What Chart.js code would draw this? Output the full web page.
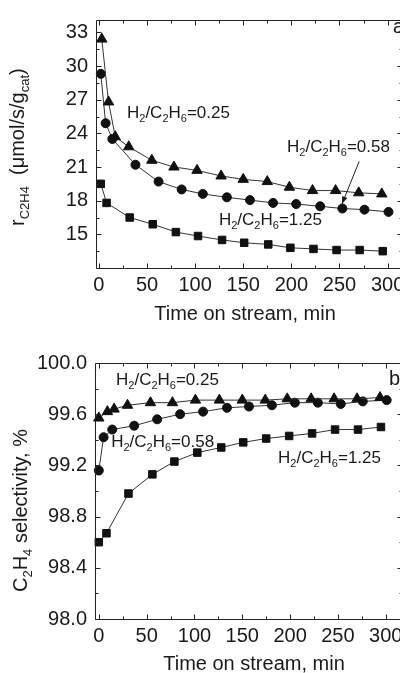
<!DOCTYPE html>
<html>
<head>
<meta charset="utf-8">
<script src="https://cdn.jsdelivr.net/npm/chart.js@4.4.1/dist/chart.umd.min.js"></script>
<style>
  html, body { margin: 0; padding: 0; background: #fff; }
  #wrap { width: 400px; height: 673px; overflow: hidden; position: relative; }
  .panel { position: absolute; left: 0; width: 420px; }
</style>
</head>
<body>
<div id="wrap">
  <div class="panel" style="top:0;height:336px"><canvas id="rate" width="420" height="336"></canvas></div>
  <div class="panel" style="top:336px;height:337px"><canvas id="sel" width="420" height="337"></canvas></div>
</div>
<script>
// tick labels
const xTicks = [0, 50, 100, 150, 200, 250, 300];
const xMinor = [25, 75, 125, 175, 225, 275];
const rateTicks = [15, 18, 21, 24, 27, 30, 33];
const rateMinor = [13.5, 16.5, 19.5, 22.5, 25.5, 28.5, 31.5];
const selTicks = [98.0, 98.4, 98.8, 99.2, 99.6, 100.0];
const selMinor = [98.2, 98.6, 99.0, 99.4, 99.8];

// (a) ethylene formation rate, umol/s/g_cat
const rate025X = [3, 10, 17, 31, 55, 78, 102, 127, 150, 175, 198, 222, 246, 270, 294];
const rate025Y = [32.4, 26.8, 23.7, 22.8, 21.6, 21.0, 20.7, 20.2, 19.9, 19.7, 19.2, 18.9, 18.9, 18.7, 18.6];
const rate058X = [2, 7, 14, 38, 62, 86, 108, 133, 157, 181, 205, 230, 253, 276, 301];
const rate058Y = [29.3, 24.9, 23.5, 21.2, 19.7, 19.0, 18.6, 18.3, 18.05, 17.8, 17.7, 17.5, 17.3, 17.2, 17.0];
const rate125X = [2, 8, 32, 56, 80, 103, 128, 151, 176, 199, 223, 247, 271, 295];
const rate125Y = [19.5, 17.8, 16.5, 15.9, 15.2, 14.85, 14.5, 14.25, 14.1, 13.8, 13.7, 13.6, 13.6, 13.5];

// (b) C2H4 selectivity, %
const sel025X = [0, 9, 16, 30, 54, 77, 101, 126, 150, 174, 197, 222, 246, 270, 294];
const sel025Y = [99.57, 99.62, 99.64, 99.67, 99.69, 99.69, 99.71, 99.71, 99.71, 99.71, 99.72, 99.72, 99.72, 99.72, 99.73];
const sel058X = [0, 5, 14, 37, 61, 85, 109, 134, 157, 181, 205, 229, 253, 276, 301];
const sel058Y = [99.16, 99.42, 99.48, 99.51, 99.56, 99.60, 99.62, 99.65, 99.66, 99.67, 99.69, 99.69, 99.68, 99.70, 99.71];
const sel125X = [0, 8, 31, 56, 79, 103, 128, 151, 175, 199, 223, 247, 271, 295];
const sel125Y = [98.60, 98.67, 98.98, 99.13, 99.23, 99.30, 99.34, 99.38, 99.41, 99.43, 99.45, 99.48, 99.48, 99.50];

const FONT = '"Liberation Sans", Arial, sans-serif';
const INK = '#1a1a1a';

function series(xs, ys, style, r) {
  return {
    data: xs.map((x, i) => ({ x: x, y: ys[i] })),
    showLine: true,
    borderColor: '#333',
    borderWidth: 1,
    pointStyle: style,
    pointRadius: r,
    pointBackgroundColor: '#111',
    pointBorderColor: '#111',
    pointBorderWidth: 1,
    clip: false
  };
}

// text with subscripts: parts = [[text, isSub], ...]
function richText(ctx, parts, x, y, size, subSize, shift) {
  parts.forEach(p => {
    ctx.font = (p[1] ? subSize : size) + 'px ' + FONT;
    ctx.fillText(p[0], x, y + (p[1] ? shift : 0));
    x += ctx.measureText(p[0]).width;
  });
}

function ratio(v) {
  return [['H', 0], ['2', 1], ['/C', 0], ['2', 1], ['H', 0], ['6', 1], ['=' + v, 0]];
}

const decor = {
  id: 'decor',
  afterDraw(chart, args, o) {
    const ctx = chart.ctx, a = chart.chartArea;
    const xs = chart.scales.x, ys = chart.scales.y;
    const L = Math.round(a.left) + 0.5, R = Math.round(a.right) + 0.5;
    const T = Math.round(a.top) + 0.5, B = Math.round(a.bottom) + 0.5;
    ctx.save();
    ctx.strokeStyle = '#222';
    ctx.lineWidth = 1;
    ctx.beginPath();
    ctx.moveTo(L, T); ctx.lineTo(R, T); ctx.lineTo(R, B); ctx.lineTo(L, B); ctx.closePath();
    // inward ticks
    const tx = (vals, len) => vals.forEach(v => {
      const p = Math.round(xs.getPixelForValue(v)) + 0.5;
      ctx.moveTo(p, B); ctx.lineTo(p, B - len);
      ctx.moveTo(p, T); ctx.lineTo(p, T + len);
    });
    const ty = (vals, len) => vals.forEach(v => {
      const p = Math.round(ys.getPixelForValue(v)) + 0.5;
      ctx.moveTo(L, p); ctx.lineTo(L + len, p);
      ctx.moveTo(R, p); ctx.lineTo(R - len, p);
    });
    tx(xTicks, 5); tx(xMinor, 3);
    ty(o.yTicks, 5); ty(o.yMinor, 3);
    ctx.stroke();

    ctx.fillStyle = INK;
    ctx.textBaseline = 'alphabetic';
    // x title
    ctx.font = '20px ' + FONT;
    ctx.textAlign = 'center';
    ctx.fillText('Time on stream, min', o.xTitle[0], o.xTitle[1]);
    ctx.textAlign = 'left';
    ctx.fillText(o.letter[0], o.letter[1], o.letter[2]);
    // y title, rotated
    ctx.save();
    ctx.translate(o.yTitlePos[0], o.yTitlePos[1]);
    ctx.rotate(-Math.PI / 2);
    richText(ctx, o.yTitle, 0, 0, 20, 13, 5);
    ctx.restore();
    // ratio labels
    o.notes.forEach(n => {
      richText(ctx, ratio(n[0]), xs.getPixelForValue(n[1]), ys.getPixelForValue(n[2]), 17, 11, 4);
    });
    // arrow
    if (o.arrow) {
      const x1 = xs.getPixelForValue(o.arrow[0]), y1 = ys.getPixelForValue(o.arrow[1]);
      const x2 = xs.getPixelForValue(o.arrow[2]), y2 = ys.getPixelForValue(o.arrow[3]);
      const ang = Math.atan2(y2 - y1, x2 - x1);
      ctx.strokeStyle = '#222';
      ctx.beginPath();
      ctx.moveTo(x1, y1); ctx.lineTo(x2, y2);
      ctx.stroke();
      ctx.beginPath();
      ctx.moveTo(x2, y2);
      ctx.lineTo(x2 - 8 * Math.cos(ang - 0.35), y2 - 8 * Math.sin(ang - 0.35));
      ctx.lineTo(x2 - 8 * Math.cos(ang + 0.35), y2 - 8 * Math.sin(ang + 0.35));
      ctx.closePath();
      ctx.fill();
    }
    ctx.restore();
  }
};

function makeChart(id, sets, xr, yr, yTicks, fmt, fit, pad, deco) {
  return new Chart(document.getElementById(id), {
    type: 'scatter',
    data: { datasets: sets },
    options: {
      responsive: false,
      animation: false,
      layout: { padding: pad },
      plugins: { legend: { display: false }, tooltip: { enabled: false }, decor: deco },
      scales: {
        x: {
          min: xr[0], max: xr[1],
          afterBuildTicks: s => { s.ticks = xTicks.map(v => ({ value: v })); },
          afterFit: s => { s.height = fit[1]; },
          grid: { display: false, drawTicks: false },
          border: { display: false },
          ticks: { font: { family: FONT, size: 20 }, color: INK, padding: 5, maxRotation: 0, autoSkip: false }
        },
        y: {
          min: yr[0], max: yr[1],
          afterBuildTicks: s => { s.ticks = yTicks.map(v => ({ value: v })); },
          afterFit: s => { s.width = fit[0]; },
          grid: { display: false, drawTicks: false },
          border: { display: false },
          ticks: { font: { family: FONT, size: 20 }, color: INK, padding: 8, autoSkip: false, callback: fmt }
        }
      }
    },
    plugins: [decor]
  });
}

makeChart('rate',
  [series(rate025X, rate025Y, 'triangle', 6), series(rate058X, rate058Y, 'circle', 4.5), series(rate125X, rate125Y, 'rect', 5.3)],
  [-3, 315], [12, 34.1], rateTicks, v => String(v), [96, 68], { top: 13, right: 18, left: 0, bottom: 0 },
  {
    yTicks: rateTicks, yMinor: rateMinor,
    xTitle: [245, 320], letter: ['a', 393, 33],
    yTitlePos: [24, 226],
    yTitle: [['r', 0], ['C2H4', 1], ['  (\u03bcmol/s/g', 0], ['cat', 1], [')', 0]],
    notes: [['0.25', 29.2, 25.4], ['0.58', 195.5, 22.38], ['1.25', 124.8, 15.87]],
    arrow: [270.5, 21.5, 252.6, 17.7]
  });

makeChart('sel',
  [series(sel025X, sel025Y, 'triangle', 6), series(sel058X, sel058Y, 'circle', 4.5), series(sel125X, sel125Y, 'rect', 5.3)],
  [-4, 317], [98, 100], selTicks, v => v.toFixed(1), [95, 54], { top: 27, right: 18, left: 0, bottom: 0 },
  {
    yTicks: selTicks, yMinor: selMinor,
    xTitle: [254, 334], letter: ['b', 389, 49],
    yTitlePos: [27, 256],
    yTitle: [['C', 0], ['2', 1], ['H', 0], ['4', 1], [' selectivity, %', 0]],
    notes: [['0.25', 18, 99.83], ['0.58', 12.9, 99.343], ['1.25', 187.4, 99.218]],
    arrow: null
  });
</script>
</body>
</html>
